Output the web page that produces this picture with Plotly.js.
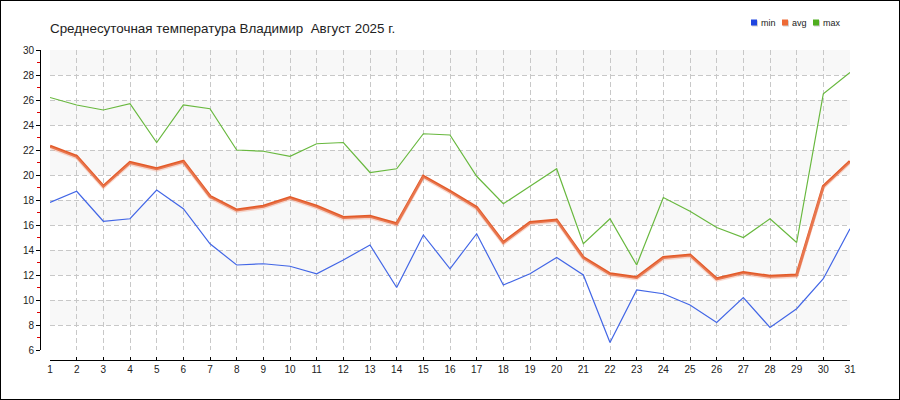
<!DOCTYPE html>
<html>
<head>
<meta charset="utf-8">
<script src="https://cdn.plot.ly/plotly-3.0.1.min.js"></script>
<style>
  html, body { margin: 0; padding: 0; background: #fff; }
  #chart { width: 900px; height: 400px; box-sizing: border-box; border: 1px solid #000; }
</style>
</head>
<body>
<div id="chart"></div>
<script>
// ---- data ----
const days = [1,2,3,4,5,6,7,8,9,10,11,12,13,14,15,16,17,18,19,20,21,22,23,24,25,26,27,28,29,30,31];
const minT = [17.8,18.7,16.3,16.5,18.8,17.3,14.5,12.8,12.9,12.7,12.1,13.2,14.4,11.0,15.2,12.5,15.3,11.2,12.1,13.4,12.0,6.6,10.8,10.5,9.6,8.2,10.2,7.8,9.3,11.7,15.7];
const avgT = [22.3,21.5,19.1,21.0,20.5,21.1,18.3,17.2,17.5,18.2,17.5,16.6,16.7,16.1,19.9,18.7,17.4,14.6,16.2,16.4,13.4,12.1,11.8,13.4,13.6,11.7,12.2,11.9,12.0,19.1,21.1];
const maxT = [26.2,25.6,25.2,25.7,22.6,25.6,25.3,22.0,21.9,21.5,22.5,22.6,20.2,20.5,23.3,23.2,19.9,17.7,19.1,20.5,14.5,16.5,12.8,18.2,17.1,15.8,15.0,16.5,14.6,26.5,28.2];
const seriesNames = ['min','avg','max'];
const titleText = 'Среднесуточная температура Владимир \u00a0Август 2025 г.';

// ---- geometry helpers (page pixels -> paper) ----
const W = 898, H = 398, ML = 39, MR = 49, MT = 49, MB = 39;
const PW = W - ML - MR, PH = H - MT - MB;
const px = X => (X - 1 - ML) / PW;
const py = Y => (H - MB - (Y - 1)) / PH;

const colors = { min: '#4266e6', avg: '#e35a28', max: '#68b83e' };
const legendColors = { min: '#1f45e0', avg: '#ee6a35', max: '#4fae1f' };

const traces = [
  { x: days, y: avgT, yaxis: 'y2', mode: 'lines', line: { color: 'rgba(240,160,135,0.4)', width: 3 }, hoverinfo: 'skip', showlegend: false },
  { x: days, y: maxT, name: 'max', mode: 'lines', line: { color: colors.max, width: 1.2 }, showlegend: false },
  { x: days, y: minT, name: 'min', mode: 'lines', line: { color: colors.min, width: 1.2 }, showlegend: false },
  { x: days, y: avgT, name: 'avg', mode: 'lines', line: { color: colors.avg, width: 3 }, showlegend: false }
];

const shapes = [];
[[8,10],[12,14],[16,18],[20,22],[24,26],[28,30]].forEach(b => {
  shapes.push({ type: 'rect', xref: 'x', yref: 'y', x0: 1, x1: 31, y0: b[0], y1: b[1], fillcolor: '#f8f8f8', line: { width: 0 }, layer: 'below' });
});

const annotations = [];
const legendX = { min: 751, avg: 782, max: 813 };
seriesNames.forEach(n => {
  const x0 = legendX[n];
  shapes.push({ type: 'rect', xref: 'paper', yref: 'paper', x0: px(x0 + 1), x1: px(x0 + 7), y0: py(26.5), y1: py(20.5), fillcolor: '#d0d0d0', line: { width: 0 } });
  shapes.push({ type: 'rect', xref: 'paper', yref: 'paper', x0: px(x0), x1: px(x0 + 6), y0: py(25.5), y1: py(19.5), fillcolor: legendColors[n], line: { width: 0 } });
  annotations.push({ xref: 'paper', yref: 'paper', x: px(x0 + 8), y: py(22.5), xanchor: 'left', yanchor: 'middle', text: n, showarrow: false, font: { family: 'Liberation Sans, Arial, sans-serif', size: 9, color: '#222' } });
});

const layout = {
  width: W, height: H,
  margin: { l: ML, r: MR, t: MT, b: MB, pad: 0 },
  paper_bgcolor: '#fff', plot_bgcolor: 'rgba(0,0,0,0)',
  showlegend: false,
  title: {
    text: titleText, xref: 'container', yref: 'container',
    x: 49 / W, xanchor: 'left', y: 1 - 27 / H, yanchor: 'middle',
    font: { family: 'Liberation Sans, Arial, sans-serif', size: 13.4, color: '#222' }
  },
  xaxis: {
    domain: [10 / PW, 1], anchor: 'free', position: 0,
    range: [1, 31], tickvals: days, ticktext: days.map(String),
    ticks: 'inside', ticklen: 3, tickcolor: '#000', tickwidth: 1,
    showline: true, linecolor: '#000', linewidth: 1.2,
    showgrid: true, gridcolor: '#c8c8c8', griddash: '5px,3px', gridwidth: 1,
    zeroline: false, fixedrange: true,
    tickfont: { family: 'Liberation Sans, Arial, sans-serif', size: 10, color: '#222' }
  },
  yaxis: {
    domain: [10 / PH, 1], anchor: 'free', position: 0,
    range: [6, 30], dtick: 2, tick0: 0,
    ticks: 'outside', ticklen: 4, tickcolor: '#000', tickwidth: 1,
    minor: { dtick: 1, ticks: 'outside', ticklen: 3, tickcolor: '#e00000', tickwidth: 1, showgrid: false },
    showline: true, linecolor: '#000', linewidth: 1.2,
    showgrid: true, gridcolor: '#c8c8c8', griddash: '5px,3px', gridwidth: 1,
    zeroline: false, fixedrange: true,
    tickfont: { family: 'Liberation Sans, Arial, sans-serif', size: 10, color: '#222' }
  },
  yaxis2: {
    overlaying: 'y', anchor: 'free', position: 0, visible: false,
    range: [6 + 0.12, 30 + 0.12], fixedrange: true
  },
  shapes: shapes,
  annotations: annotations
};

Plotly.newPlot('chart', traces, layout, { displayModeBar: false, staticPlot: true });
</script>
</body>
</html>
